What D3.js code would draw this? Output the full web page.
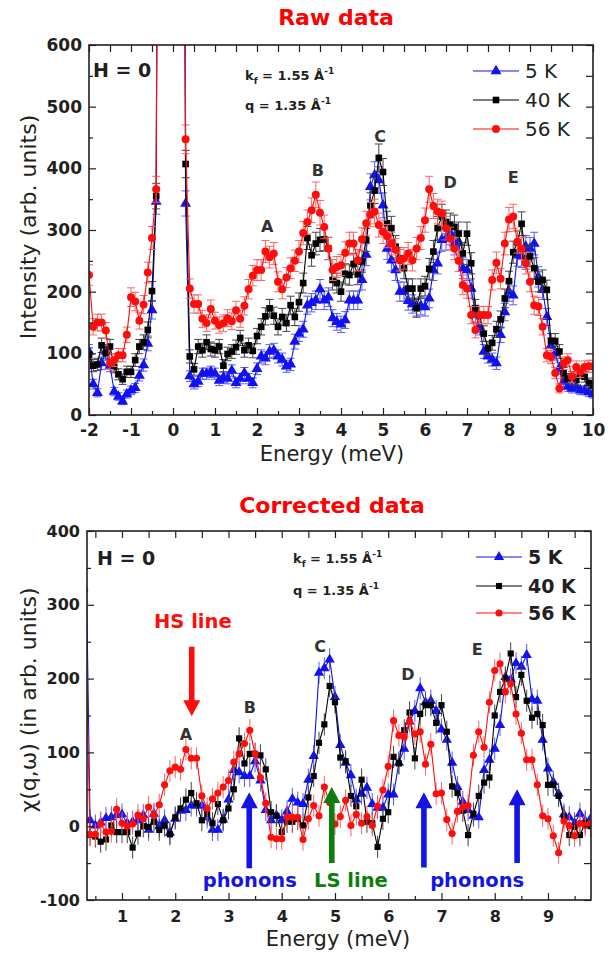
<!DOCTYPE html>
<html>
<head>
<meta charset="utf-8">
<script src="https://cdn.jsdelivr.net/npm/d3@7"></script>
<style>
  body { margin: 0; background: #fff; }
  svg { display: block; }
  text { font-family: "DejaVu Sans", sans-serif; }
</style>
</head>
<body>
<div id="chart"></div>
<script>
// ---- data ----
const seriesNames = ["5 K", "40 K", "56 K"];

// raw data: energy grid (meV), the elastic line sits between -0.3 and 0.2
const energyRaw = [-2.0,-1.9,-1.8,-1.7,-1.6,-1.5,-1.4,-1.3,-1.2,-1.1,-1.0,-0.9,-0.8,-0.7,-0.6,-0.5,-0.4,
  -0.3,-0.2,-0.1,0.0,0.1,0.2,
  0.3,0.4,0.5,0.6,0.7,0.8,0.9,1.0,1.1,1.2,
  1.3,1.4,1.5,1.6,1.7,1.8,1.9,2.0,2.1,2.2,
  2.3,2.4,2.5,2.6,2.7,2.8,2.9,3.0,3.1,3.2,
  3.3,3.4,3.5,3.6,3.7,3.8,3.9,4.0,4.1,4.2,
  4.3,4.4,4.5,4.6,4.7,4.8,4.9,5.0,5.1,5.2,
  5.3,5.4,5.5,5.6,5.7,5.8,5.9,6.0,6.1,6.2,
  6.3,6.4,6.5,6.6,6.7,6.8,6.9,7.0,7.1,7.2,
  7.3,7.4,7.5,7.6,7.7,7.8,7.9,8.0,8.1,8.2,
  8.3,8.4,8.5,8.6,8.7,8.8,8.9,9.0,9.1,9.2,
  9.3,9.4,9.5,9.6,9.7,9.8,9.9,10.0];

const raw5K = [103,50,36,84,103,80,38,30,22,34,40,44,64,81,116,170,346,
  2200,7000,16000,16000,7000,2200,
  343,63,50,54,67,67,70,67,56,61,
  59,72,52,59,68,59,52,75,95,92,
  103,105,95,90,79,82,119,132,139,178,
  182,186,204,186,191,157,151,147,154,186,
  186,186,219,260,370,389,381,340,270,251,
  235,200,200,185,180,175,177,175,189,235,
  246,284,286,295,278,281,238,235,205,164,
  143,103,95,90,84,130,167,200,194,259,
  257,273,270,278,224,203,159,113,100,76,
  54,46,43,46,40,40,37,34];

const raw40K = [98,80,82,113,100,111,78,66,58,70,70,89,111,118,138,201,355,
  2400,8000,18000,18000,8000,2400,
  407,95,74,111,105,118,107,105,111,80,
  99,103,110,125,105,113,104,128,143,160,
  173,161,143,159,149,178,159,183,214,287,
  259,278,284,285,270,219,214,200,229,227,
  245,228,249,284,340,364,417,394,311,303,
  273,254,238,205,205,173,205,209,237,265,
  303,322,313,308,305,294,262,294,246,173,
  162,132,108,117,139,155,189,217,264,280,
  310,254,258,238,216,219,203,120,120,103,
  68,59,62,57,68,62,52,48];

const raw56K = [227,143,150,150,137,84,89,97,97,130,191,184,153,179,231,287,366,
  2600,9000,20000,20000,9000,2600,
  447,205,180,180,156,149,172,153,146,149,
  157,152,170,156,177,204,226,235,235,265,
  256,262,216,204,223,238,250,265,295,313,
  332,357,328,305,270,235,240,243,263,278,
  278,251,285,311,325,330,308,297,290,278,
  268,251,254,262,251,270,287,316,366,339,
  330,327,303,286,270,250,211,205,162,138,
  162,162,162,219,247,221,278,317,322,281,
  270,246,216,178,176,143,97,94,68,43,
  84,89,62,78,70,78,79,79];

// corrected data chi''(q,w)
const energyCorr = [0.3,
  0.4,0.5,0.6,0.7,0.8,0.9,1.0,1.1,1.2,1.3,
  1.4,1.5,1.6,1.7,1.8,1.9,2.0,2.1,2.2,2.3,
  2.4,2.5,2.6,2.7,2.8,2.9,3.0,3.1,3.2,3.3,
  3.4,3.5,3.6,3.7,3.8,3.9,4.0,4.1,4.2,4.3,
  4.4,4.5,4.6,4.7,4.8,4.9,5.0,5.1,5.2,5.3,
  5.4,5.5,5.6,5.7,5.8,5.9,6.0,6.1,6.2,6.3,
  6.4,6.5,6.6,6.7,6.8,6.9,7.0,7.1,7.2,7.3,
  7.4,7.5,7.6,7.7,7.8,7.9,8.0,8.1,8.2,8.3,
  8.4,8.5,8.6,8.7,8.8,8.9,9.0,9.1,9.2,9.3,
  9.4,9.5,9.6,9.7,9.8];

const corr5K = [490,
  8,1,5,11,12,15,16,4,6,8,
  15,-5,17,0,8,-9,10,21,22,28,
  28,28,12,-5,-5,9,36,76,73,68,
  68,88,62,22,8,15,8,20,37,32,
  30,63,95,208,214,226,175,110,86,69,
  36,44,52,30,25,25,43,43,86,105,
  142,156,187,168,170,156,131,117,86,53,
  33,22,14,12,76,90,105,137,202,199,
  221,216,232,172,170,117,78,60,44,16,
  12,4,17,7,10];

const corr40K = [null,
  -12,-14,-21,-18,1,-8,-8,-8,-29,-10,
  0,-1,6,-5,1,-11,12,24,36,45,
  31,8,17,4,30,8,24,50,119,85,
  98,98,96,77,19,14,-8,6,6,10,
  1,39,68,113,138,190,168,93,88,41,
  27,63,6,4,-28,10,19,94,85,130,
  154,92,152,164,164,140,164,128,54,45,
  21,-12,17,41,59,66,150,182,200,234,
  175,205,170,147,152,137,56,56,41,13,
  -12,-1,-12,4,0];

const corr56K = [320,
  -11,-11,3,-8,-7,23,4,0,3,15,
  10,26,15,29,56,75,80,77,104,92,
  92,41,24,37,45,53,62,87,98,112,
  130,98,66,31,-15,-17,-17,12,12,12,
  -18,10,28,14,53,32,3,13,35,1,
  16,4,13,1,27,49,81,143,123,121,
  142,125,128,84,111,44,45,9,-10,20,
  26,28,96,128,107,168,211,220,182,193,
  152,126,90,90,56,14,10,-13,-36,7,
  1,-13,4,1,4];

// tick labels
const rawXTicks = [-2,-1,0,1,2,3,4,5,6,7,8,9,10];
const rawYTicks = [0,100,200,300,400,500,600];
const corrXTicks = [1,2,3,4,5,6,7,8,9];
const corrYTicks = [-100,0,100,200,300,400];

// ---- drawing ----
const colors = ["#1212f0", "#000000", "#ff0d0d"];
const barColors = ["#5a5aff", "#444444", "#ff6262"];
const symTypes = [d3.symbolTriangle, d3.symbolSquare, d3.symbolCircle];
const ink = "#231f20";

const svg = d3.select("#chart").append("svg")
    .attr("width", 616)
    .attr("height", 956);

svg.append("rect").attr("width", 616).attr("height", 956).attr("fill", "#fff");

function drawPanel(p) {
  const x = d3.scaleLinear().domain(p.xDomain).range([p.left, p.right]);
  const y = d3.scaleLinear().domain(p.yDomain).range([p.bottom, p.top]);

  svg.append("clipPath").attr("id", "clip-" + p.id)
    .append("rect")
      .attr("x", p.left).attr("y", p.top)
      .attr("width", p.right - p.left).attr("height", p.bottom - p.top);

  const plot = svg.append("g").attr("clip-path", `url(#clip-${p.id})`);

  p.series.forEach((vals, i) => {
    const pts = p.energy.map((e, j) => ({e: e, v: vals[j]}));
    const shown = pts.filter(d => d.v != null);
    const errPts = shown.filter(d => d.v < 1000);

    // error bars
    const eb = plot.append("g")
        .attr("stroke", barColors[i])
        .attr("stroke-width", 1);
    eb.selectAll("line.bar").data(errPts).join("line")
        .attr("class", "bar")
        .attr("x1", d => x(d.e)).attr("x2", d => x(d.e))
        .attr("y1", d => y(d.v - p.err(d.v)))
        .attr("y2", d => y(d.v + p.err(d.v)));
    if (p.caps) {
      [-1, 1].forEach(s => {
        eb.selectAll(null).data(errPts).join("line")
            .attr("x1", d => x(d.e) - 4).attr("x2", d => x(d.e) + 4)
            .attr("y1", d => y(d.v + s * p.err(d.v)))
            .attr("y2", d => y(d.v + s * p.err(d.v)));
      });
    }

    plot.append("path")
        .datum(pts)
        .attr("fill", "none")
        .attr("stroke", colors[i])
        .attr("stroke-width", 1.1)
        .attr("d", d3.line().defined(d => d.v != null).x(d => x(d.e)).y(d => y(d.v)));

    plot.append("g").selectAll("path").data(shown).join("path")
        .attr("transform", d => `translate(${x(d.e)},${y(d.v)})`)
        .attr("d", d3.symbol().type(symTypes[i]).size(p.symSize[i]))
        .attr("fill", colors[i]);
  });

  // axes, ticks point inwards on all four sides
  const half = (t) => d3.range(t.length - 1).map(k => (t[k] + t[k + 1]) / 2);
  const xMinor = half(p.xTicks).concat(p.xExtraMinor);
  const yMinor = half(p.yTicks);
  const fmt = d => String(d);

  const styleAxis = (g, size) => {
    g.select(".domain").remove();
    g.selectAll(".tick line").attr("stroke", ink).attr("stroke-width", 1.2);
    g.selectAll("text")
        .attr("font-family", "DejaVu Sans")
        .attr("font-weight", "bold")
        .attr("font-size", size)
        .attr("fill", ink);
  };

  svg.append("g").attr("transform", `translate(0,${p.bottom})`)
      .call(d3.axisBottom(x).tickValues(p.xTicks).tickSize(-7).tickPadding(p.xPad).tickFormat(fmt))
      .call(g => styleAxis(g, p.tickFont));
  svg.append("g").attr("transform", `translate(0,${p.bottom})`)
      .call(d3.axisBottom(x).tickValues(xMinor).tickSize(-4).tickFormat(""))
      .call(g => styleAxis(g, p.tickFont));
  svg.append("g").attr("transform", `translate(0,${p.top})`)
      .call(d3.axisTop(x).tickValues(p.xTicks.concat(xMinor)).tickSize(-7).tickFormat(""))
      .call(g => styleAxis(g, p.tickFont));
  svg.append("g").attr("transform", `translate(${p.left},0)`)
      .call(d3.axisLeft(y).tickValues(p.yTicks).tickSize(-7).tickPadding(7).tickFormat(fmt))
      .call(g => styleAxis(g, p.tickFont));
  svg.append("g").attr("transform", `translate(${p.left},0)`)
      .call(d3.axisLeft(y).tickValues(yMinor).tickSize(-4).tickFormat(""))
      .call(g => styleAxis(g, p.tickFont));
  svg.append("g").attr("transform", `translate(${p.right},0)`)
      .call(d3.axisRight(y).tickValues(p.yTicks.concat(yMinor)).tickSize(-7).tickFormat(""))
      .call(g => styleAxis(g, p.tickFont));

  svg.append("rect")
      .attr("x", p.left).attr("y", p.top)
      .attr("width", p.right - p.left).attr("height", p.bottom - p.top)
      .attr("fill", "none").attr("stroke", ink).attr("stroke-width", 1.6);

  // titles
  svg.append("text")
      .attr("x", p.titleX).attr("y", p.titleY)
      .attr("text-anchor", "middle")
      .attr("font-weight", "bold").attr("font-size", 22)
      .attr("fill", "#ff0000")
      .text(p.title);

  svg.append("text")
      .attr("x", p.xLabelX).attr("y", p.xLabelY)
      .attr("text-anchor", "middle")
      .attr("font-size", 21).attr("fill", ink)
      .text("Energy (meV)");

  svg.append("text")
      .attr("transform", `translate(36,${p.yLabelY}) rotate(-90)`)
      .attr("text-anchor", "middle")
      .attr("font-size", 22).attr("fill", ink)
      .text(p.yLabel);

  // H = 0 and scattering conditions
  svg.append("text")
      .attr("x", p.hX).attr("y", p.hY)
      .attr("font-weight", "bold").attr("font-size", 19).attr("fill", ink)
      .text("H = 0");

  const kf = svg.append("text")
      .attr("x", p.kX).attr("y", p.kY)
      .attr("font-weight", "bold").attr("font-size", 13).attr("fill", ink);
  kf.append("tspan").text("k");
  kf.append("tspan").attr("font-size", 9).attr("dy", 4).text("f");
  kf.append("tspan").attr("dy", -4).text(" = 1.55 Å");
  kf.append("tspan").attr("font-size", 9).attr("dy", -6).text("-1");

  const qq = svg.append("text")
      .attr("x", p.kX).attr("y", p.qY)
      .attr("font-weight", "bold").attr("font-size", 13).attr("fill", ink);
  qq.append("tspan").text("q = 1.35 Å");
  qq.append("tspan").attr("font-size", 9).attr("dy", -6).text("-1");

  // legend
  seriesNames.forEach((name, i) => {
    const ly = p.legY[i];
    svg.append("line")
        .attr("x1", p.legX).attr("x2", p.legX + 46)
        .attr("y1", ly).attr("y2", ly)
        .attr("stroke", colors[i]).attr("stroke-width", 1.1);
    svg.append("path")
        .attr("transform", `translate(${p.legX + 23},${ly})`)
        .attr("d", d3.symbol().type(symTypes[i]).size(p.symSize[i])())
        .attr("fill", colors[i]);
    svg.append("text")
        .attr("x", p.legX + 52).attr("y", ly + 7)
        .attr("font-size", p.legFont)
        .attr("font-weight", p.legWeight)
        .attr("fill", ink)
        .text(name);
  });

  // peak letters
  p.peaks.forEach(pk => {
    svg.append("text")
        .attr("x", x(pk[1])).attr("y", y(pk[2]))
        .attr("text-anchor", "middle")
        .attr("font-weight", "bold").attr("font-size", 16).attr("fill", "#333")
        .text(pk[0]);
  });

  return {x: x, y: y};
}

const errRaw = v => Math.sqrt(Math.max(v, 1)) * 1.1;
const errCorr = () => 15;

drawPanel({
  id: "raw", energy: energyRaw, series: [raw5K, raw40K, raw56K],
  xDomain: [-2, 10], yDomain: [0, 600],
  left: 89, right: 593, top: 45, bottom: 415,
  xTicks: rawXTicks, yTicks: rawYTicks, xExtraMinor: [],
  xPad: 9, tickFont: 17, err: errRaw, caps: true,
  symSize: [52, 44, 50],
  title: "Raw data", titleX: 336, titleY: 25,
  xLabelX: 332, xLabelY: 461,
  yLabel: "Intensity (arb. units)", yLabelY: 227,
  hX: 93, hY: 77, kX: 245, kY: 80, qY: 110,
  legX: 473, legY: [71, 100, 129], legFont: 20, legWeight: "normal",
  peaks: [["A", 2.24, 297], ["B", 3.45, 388], ["C", 4.93, 443], ["D", 6.6, 368], ["E", 8.1, 376]]
});

const corr = drawPanel({
  id: "corr", energy: energyCorr, series: [corr5K, corr40K, corr56K],
  xDomain: [0.343, 9.808], yDomain: [-100, 400],
  left: 87, right: 591, top: 531, bottom: 900,
  xTicks: corrXTicks, yTicks: corrYTicks, xExtraMinor: [0.5, 9.5],
  xPad: 10.5, tickFont: 16, err: errCorr, caps: false,
  symSize: [46, 38, 40],
  title: "Corrected data", titleX: 332, titleY: 513,
  xLabelX: 338, xLabelY: 946,
  yLabel: "χ(q,ω) (in arb. units)", yLabelY: 700,
  hX: 97, hY: 565, kX: 293, kY: 563, qY: 595,
  legX: 476, legY: [557, 586, 613], legFont: 19, legWeight: "bold",
  peaks: [["A", 2.2, 117], ["B", 3.4, 153], ["C", 4.72, 236], ["D", 6.37, 198], ["E", 7.67, 232]]
});

// arrows and their labels in the corrected panel
const arrows = [
  {e: 2.31, tail: 243, tip: 149, color: "#ff0d0d"},
  {e: 3.39, tail: -57, tip: 46, color: "#1414e6"},
  {e: 4.94, tail: -50, tip: 53, color: "#0b7d0b"},
  {e: 6.67, tail: -56, tip: 46, color: "#1414e6"},
  {e: 8.42, tail: -50, tip: 50, color: "#1414e6"}
];
arrows.forEach(a => {
  const ax = corr.x(a.e), y0 = corr.y(a.tail), y1 = corr.y(a.tip);
  const dir = y1 > y0 ? 1 : -1;
  const hb = y1 - dir * 16;
  svg.append("path")
      .attr("d", `M${ax - 2.8},${y0} L${ax + 2.8},${y0} L${ax + 2.8},${hb} L${ax + 8.5},${hb} L${ax},${y1} L${ax - 8.5},${hb} L${ax - 2.8},${hb} Z`)
      .attr("fill", a.color);
});

const arrowLabels = [
  ["HS line", 2.33, 268, "#ff0d0d"],
  ["phonons", 3.40, -83, "#1414e6"],
  ["LS line", 5.30, -83, "#0b7d0b"],
  ["phonons", 7.67, -83, "#1414e6"]
];
arrowLabels.forEach(l => {
  svg.append("text")
      .attr("x", corr.x(l[1])).attr("y", corr.y(l[2]))
      .attr("text-anchor", "middle")
      .attr("font-weight", "bold").attr("font-size", 19.5)
      .attr("fill", l[3])
      .text(l[0]);
});
</script>
</body>
</html>
